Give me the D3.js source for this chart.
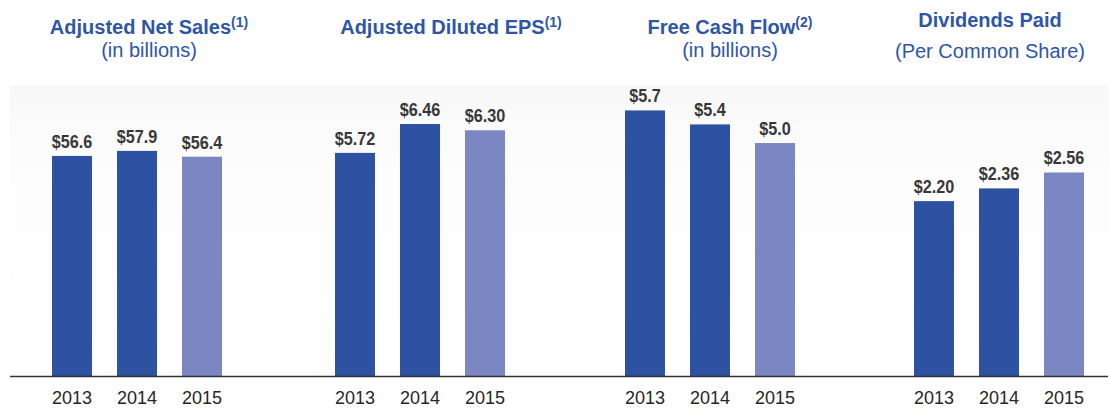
<!DOCTYPE html>
<html>
<head>
<meta charset="utf-8">
<script src="https://cdn.jsdelivr.net/npm/d3@7"></script>
<style>
  body { margin: 0; background: #fff; }
  svg { display: block; }
  .title { font-family: "Liberation Sans", Arial, sans-serif; fill: #2f56a6; }
  .val { font-family: "Liberation Sans", Arial, sans-serif; font-weight: bold; fill: #383838; }
  .year { font-family: "Liberation Sans", Arial, sans-serif; fill: #262626; }
</style>
</head>
<body>
<svg width="1109" height="408"></svg>
<script>
// chart data
const years = ["2013", "2014", "2015"];
const netSales = [56.6, 57.9, 56.4];
const dilutedEps = [5.72, 6.46, 6.30];
const freeCashFlow = [5.7, 5.4, 5.0];
const dividends = [2.20, 2.36, 2.56];
const titles = ["Adjusted Net Sales", "Adjusted Diluted EPS", "Free Cash Flow", "Dividends Paid"];
const notes = ["(1)", "(1)", "(2)", ""];
const subtitles = ["(in billions)", "", "(in billions)", "(Per Common Share)"];

const svg = d3.select("svg"),
    width = +svg.attr("width"),
    height = +svg.attr("height"),
    baseY = 376; // axis line

// faint backdrop behind the bars
const defs = svg.append("defs");
const grad = defs.append("linearGradient").attr("id", "bg").attr("x1", 0).attr("y1", 0).attr("x2", 0).attr("y2", 1);
grad.append("stop").attr("offset", "0%").attr("stop-color", "#f8f8f8");
grad.append("stop").attr("offset", "30%").attr("stop-color", "#fdfdfd");
grad.append("stop").attr("offset", "100%").attr("stop-color", "#ffffff");
svg.append("rect").attr("x", 10).attr("y", 85).attr("width", width - 10).attr("height", baseY - 85).attr("fill", "url(#bg)");

// one panel per metric: x range of bars, y domain max, title center + baselines, label format
const panels = [
    { data: netSales, x0: 52, x1: 222, yMax: 96.7, tx: 149, ty: 34, sy: 57, fmt: d => "$" + d.toFixed(1) },
    { data: dilutedEps, x0: 335, x1: 505, yMax: 9.64, tx: 451, ty: 34, sy: 57, fmt: d => "$" + d.toFixed(2) },
    { data: freeCashFlow, x0: 625, x1: 795, yMax: 8.07, tx: 730, ty: 34, sy: 57, fmt: d => "$" + d.toFixed(1) },
    { data: dividends, x0: 914, x1: 1084, yMax: 4.73, tx: 990, ty: 27, sy: 58, fmt: d => "$" + d.toFixed(2) }
];

const barColor = ["#2d52a1", "#2d52a1", "#7b87c3"];

panels.forEach((p, i) => {
    const x = d3.scaleBand().domain(years).range([p.x0, p.x1]).paddingInner(0.385).paddingOuter(0);
    const y = d3.scaleLinear().domain([0, p.yMax]).range([baseY, 0]);
    const g = svg.append("g");

    g.selectAll("rect.bar")
        .data(p.data)
        .join("rect")
        .attr("class", "bar")
        .attr("x", (d, j) => x(years[j]))
        .attr("y", d => y(d))
        .attr("width", x.bandwidth())
        .attr("height", d => baseY - y(d))
        .attr("fill", (d, j) => barColor[j]);

    // value labels, a bit narrow like the condensed face in the original
    g.selectAll("text.val")
        .data(p.data)
        .join("text")
        .attr("class", "val")
        .attr("transform", (d, j) => "translate(" + (x(years[j]) + x.bandwidth() / 2) + "," + (y(d) - 8) + ") scale(0.9,1)")
        .attr("text-anchor", "middle")
        .attr("font-size", 18)
        .text(p.fmt);

    // year labels from the band axis
    const xAxis = d3.axisBottom(x).tickSize(0).tickPadding(15);
    const ax = g.append("g").attr("transform", "translate(0," + baseY + ")").call(xAxis);
    ax.select(".domain").remove();
    ax.selectAll("text").attr("class", "year").attr("font-size", 18).attr("fill", null);

    // title
    const t = svg.append("text").attr("class", "title")
        .attr("x", p.tx).attr("y", p.ty).attr("text-anchor", "middle")
        .attr("font-size", 20).attr("font-weight", "bold");
    t.append("tspan").text(titles[i]);
    if (notes[i]) t.append("tspan").attr("font-size", 14).attr("dy", -7).text(notes[i]);
    if (subtitles[i]) {
        svg.append("text").attr("class", "title")
            .attr("x", p.tx).attr("y", p.sy).attr("text-anchor", "middle")
            .attr("font-size", 20).text(subtitles[i]);
    }
});

// baseline
svg.append("line").attr("x1", 10).attr("x2", width - 1).attr("y1", baseY + 0.5).attr("y2", baseY + 0.5)
    .attr("stroke", "#333").attr("stroke-width", 1.5);
</script>
</body>
</html>
